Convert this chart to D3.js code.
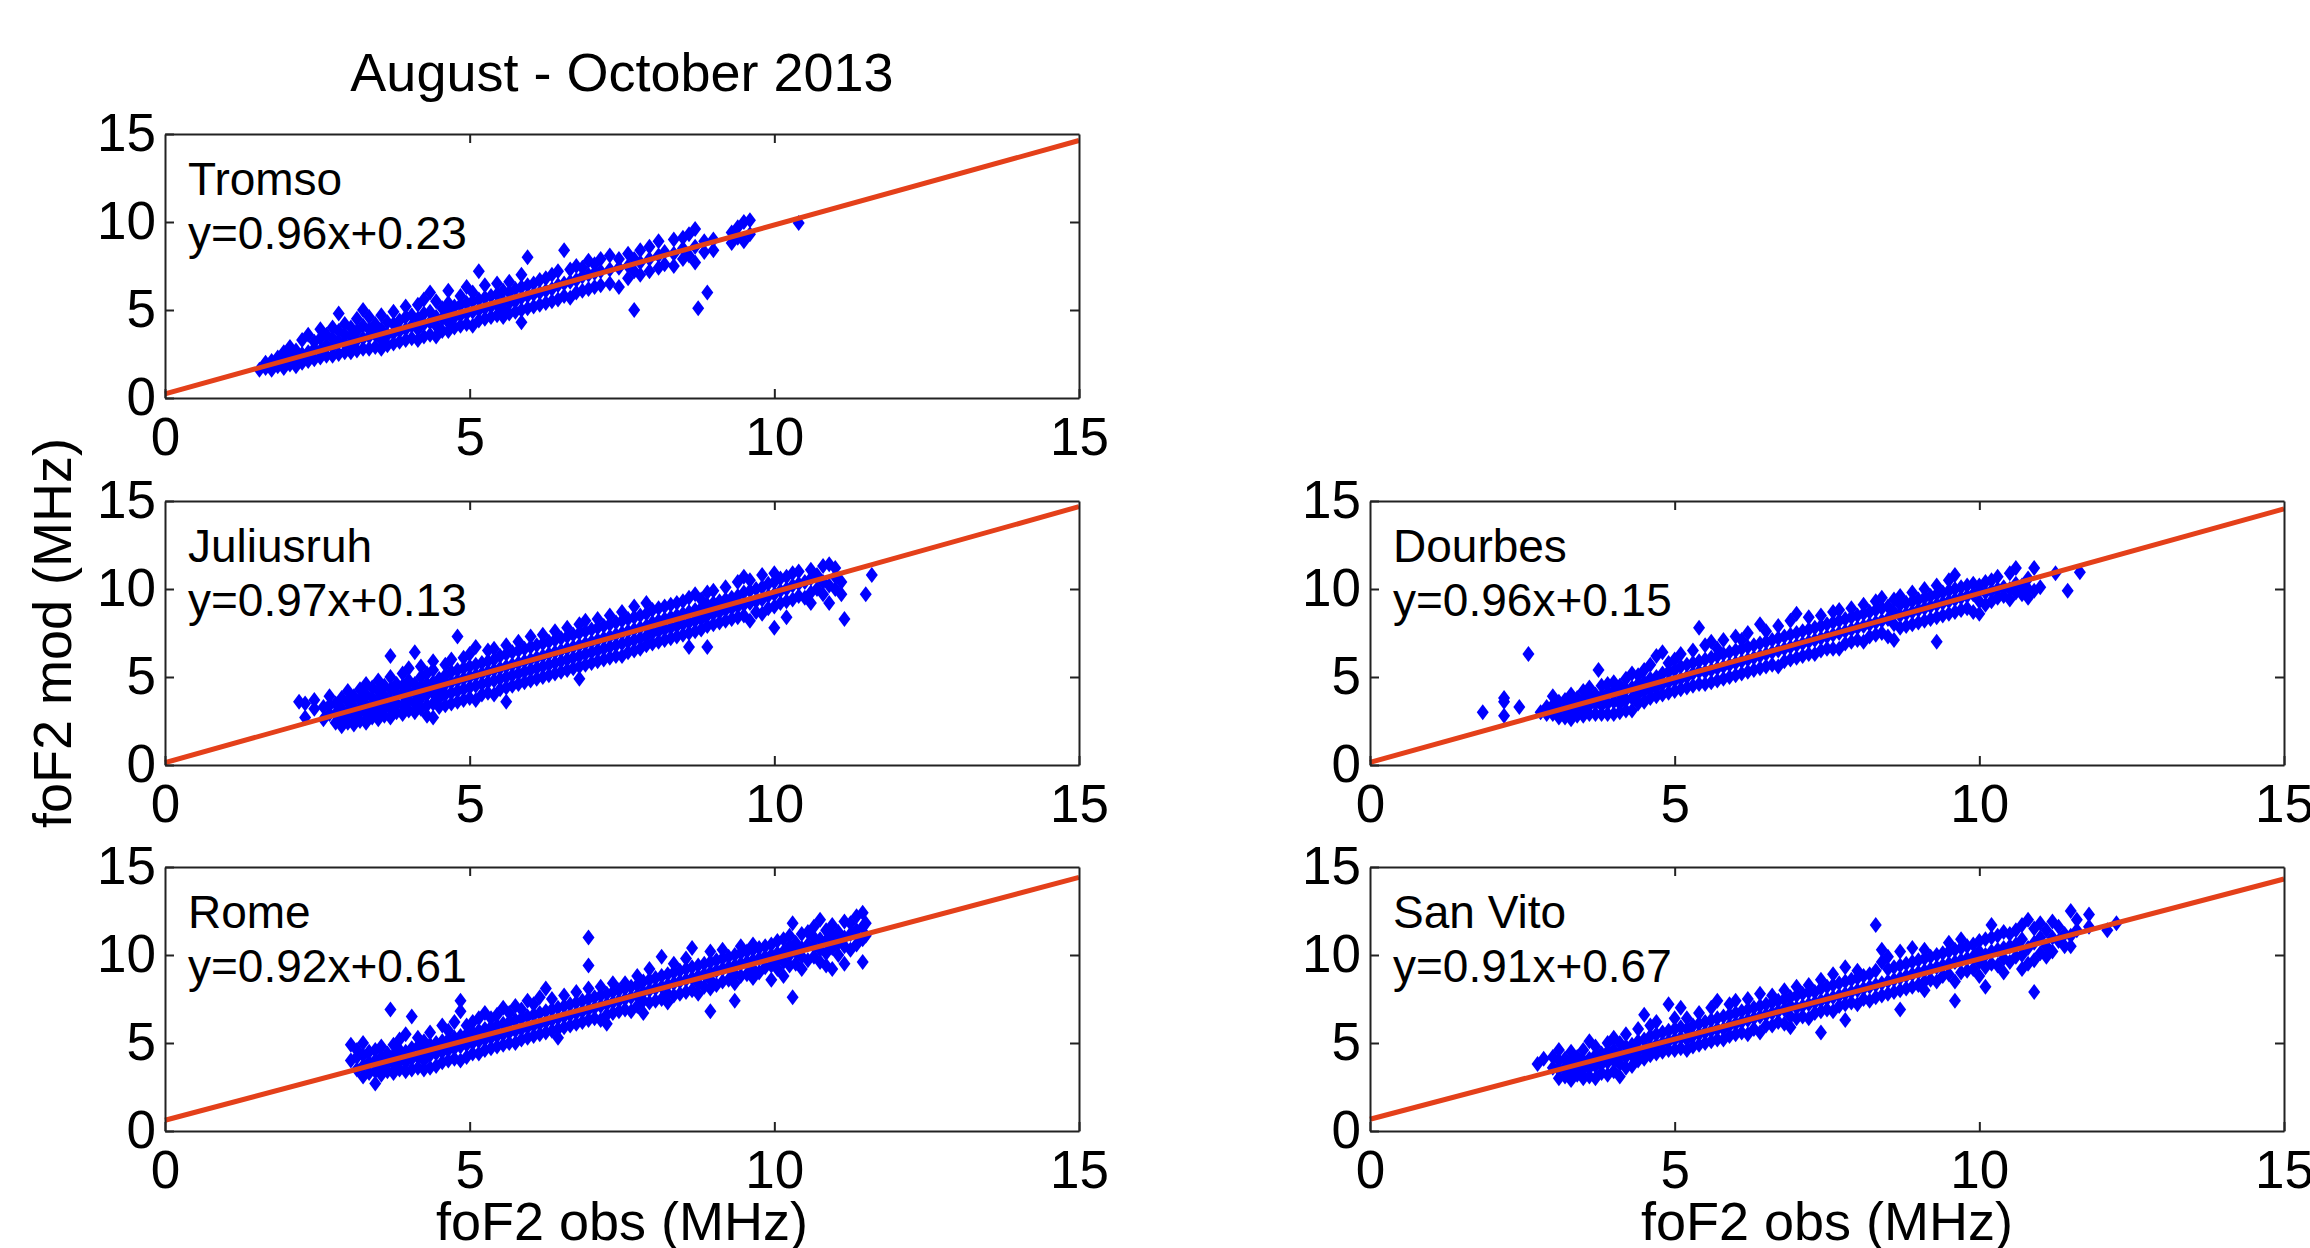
<!DOCTYPE html>
<html>
<head>
    <meta charset="utf-8">
    <title>foF2 observed vs modelled, August - October 2013</title>
    <script src="https://cdn.jsdelivr.net/npm/d3@7/dist/d3.min.js"></script>
    <style>
        body { margin: 0; background: #fff; }
    </style>
</head>
<body>
<div id="container"></div>

<script type="text/javascript">
    // stations and their regression fits (foF2 mod = slope * foF2 obs + intercept)
    const stations = ["Tromso", "Juliusruh", "Dourbes", "Rome", "San Vito"];
    const slopes = [0.96, 0.97, 0.96, 0.92, 0.91];
    const intercepts = [0.23, 0.13, 0.15, 0.61, 0.67];
    const axisTicks = [0, 5, 10, 15];

    // scatter: [foF2 obs, [foF2 mod values at that obs]]
    const tromso = [
        [1.55,[1.6]],[1.65,[1.7,2.0]],[1.75,[1.6,2.1]],[1.85,[1.8,2.3]],[1.95,[1.7,2.1,2.6]],
        [2.05,[1.9,2.4,2.9]],[2.15,[1.8,2.2,2.7]],[2.25,[2.0,2.5,3.3]],[2.35,[2.1,2.6,3.6]],[2.45,[2.2,2.8,3.2]],
        [2.55,[2.3,2.7,3.4,3.9]],[2.65,[2.4,3.0,3.6]],[2.75,[2.4,2.9,3.4,4.0]],[2.85,[2.5,3.2,3.8,4.8]],[2.95,[2.6,3.1,3.6,4.2]],
        [3.05,[2.6,3.0,3.5,4.0]],[3.15,[2.7,3.3,3.8,4.5]],[3.25,[2.8,3.4,4.1,5.0]],[3.35,[2.8,3.5,3.9,4.6]],[3.45,[2.9,3.6,4.2]],
        [3.55,[2.8,3.3,3.9,4.7]],[3.65,[3.0,3.6,4.3]],[3.75,[3.1,3.7,4.2,4.9]],[3.85,[3.2,3.8,4.4]],[3.95,[3.3,3.9,4.6,5.2]],
        [4.05,[3.4,4.1,4.7]],[4.15,[3.3,3.9,4.5,5.3]],[4.25,[3.5,4.2,4.8,5.6]],[4.35,[3.6,4.3,4.9,6.0]],[4.45,[3.5,4.1,4.6,5.5]],
        [4.55,[3.8,4.5,5.1]],[4.65,[3.8,4.3,4.9,5.4,6.1]],[4.75,[4.0,4.6,5.2]],[4.85,[4.1,4.7,5.3,5.8]],[4.95,[4.2,4.8,5.4,6.3]],
        [5.05,[4.1,4.9,5.5,6.0]],[5.15,[4.4,5.0,5.6,7.2]],[5.25,[4.5,5.1,5.7,6.4]],[5.35,[4.6,5.2,5.8]],[5.45,[4.7,5.3,5.9,6.5]],
        [5.55,[4.6,5.0,5.5,6.1]],[5.65,[4.8,5.4,6.0,6.6]],[5.75,[4.9,5.5,6.2]],[5.85,[4.3,5.0,5.7,6.3,7.0]],[5.95,[5.1,5.8,6.4,8.0]],
        [6.05,[5.2,5.9,6.5]],[6.15,[5.3,6.0,6.7]],[6.25,[5.4,6.1,6.8]],[6.35,[5.5,6.2,7.0]],[6.45,[5.6,6.4,7.2]],
        [6.55,[5.8,6.5,8.4]],[6.65,[5.7,6.6,7.3]],[6.75,[6.0,6.7,7.5]],[6.85,[6.1,6.9,7.4]],[6.95,[6.2,7.0,7.8]],
        [7.05,[6.3,7.1,7.6]],[7.15,[6.4,7.2,7.9]],[7.3,[6.5,7.3,8.1]],[7.45,[6.3,7.4,7.9]],[7.6,[6.8,7.5,8.2]],
        [7.7,[5.0,7.2,7.9]],[7.8,[7.0,7.7,8.4]],[7.95,[7.2,7.9,8.6]],[8.1,[7.4,8.1,8.9]],[8.2,[7.6,8.3]],
        [8.35,[7.5,8.2,9.0]],[8.5,[7.9,8.5,9.1]],[8.6,[8.1,9.3]],[8.7,[7.7,8.6,9.6]],[8.75,[5.1]],
        [8.85,[8.3,8.9]],[8.9,[6.0]],[9.0,[8.4,9.0]],[9.3,[8.8,9.4]],[9.4,[9.1,9.7]],
        [9.5,[8.9,10.0]],[9.6,[9.3,10.1]],[10.4,[9.95]]
    ];

    const juliusruh = [
        [2.2,[3.6]],[2.3,[2.7,3.5]],[2.45,[3.2,3.7]],[2.6,[2.6,3.3]],[2.7,[2.9,3.4,3.9]],
        [2.8,[2.4,2.9,3.5]],[2.9,[2.2,2.7,3.2,3.8]],[3.0,[2.4,3.0,3.6,4.2]],[3.1,[2.3,2.8,3.3,3.9]],[3.2,[2.5,3.1,3.7,4.3]],
        [3.3,[2.4,2.9,3.4,4.0,4.6]],[3.4,[2.7,3.2,3.8,4.4]],[3.5,[2.6,3.0,3.6,4.2,4.8]],[3.6,[2.8,3.3,3.9,4.5]],[3.7,[2.7,3.2,3.7,4.3,5.0,6.2]],
        [3.8,[3.0,3.5,4.1,4.6]],[3.9,[2.9,3.4,4.0,4.5,5.2]],[4.0,[3.1,3.7,4.2,4.8,5.5]],[4.1,[3.0,3.5,4.1,4.6,6.4]],[4.2,[3.2,3.8,4.4,5.0,5.6]],
        [4.3,[2.8,3.4,4.0,4.6,5.2]],[4.4,[2.7,3.5,4.1,4.7,5.4,5.9]],[4.5,[3.3,3.8,4.3,4.9]],[4.6,[3.4,4.0,4.6,5.1,5.7]],[4.7,[3.5,4.1,4.7,5.3,6.0]],
        [4.8,[3.6,4.2,4.8,5.4,7.3]],[4.9,[3.7,4.3,4.9,5.5,6.1]],[5.0,[3.8,4.4,5.0,5.6,6.3]],[5.1,[3.7,4.5,5.1,5.7,6.7]],[5.2,[4.0,4.6,5.2,5.8]],
        [5.3,[4.1,4.7,5.3,5.9,6.5]],[5.4,[4.0,4.8,5.4,6.0,6.6]],[5.5,[4.3,4.9,5.5,6.2]],[5.6,[3.6,4.4,5.0,5.6,6.3,6.8]],[5.7,[4.5,5.1,5.7,6.4]],
        [5.8,[4.6,5.2,5.8,6.5,7.0]],[5.9,[4.7,5.3,5.9,6.6]],[6.0,[4.8,5.4,6.0,6.7,7.3]],[6.1,[4.9,5.5,6.1,6.8]],[6.2,[5.0,5.6,6.2,6.9,7.4]],
        [6.3,[5.1,5.7,6.3,7.0]],[6.4,[5.2,5.8,6.4,7.1,7.6]],[6.5,[5.3,5.9,6.5,7.2]],[6.6,[5.4,6.0,6.6,7.3,7.8]],[6.7,[5.5,6.1,6.7,7.4]],
        [6.8,[4.9,5.6,6.2,6.8,7.5,8.0]],[6.9,[5.7,6.3,6.9,7.6,8.2]],[7.0,[5.8,6.4,7.0,7.7]],[7.1,[5.9,6.5,7.1,7.8,8.3]],[7.2,[6.0,6.6,7.2,7.9]],
        [7.3,[6.1,6.7,7.3,8.0,8.5]],[7.4,[6.2,6.8,7.4,8.1]],[7.5,[6.2,6.9,7.5,8.2,8.7]],[7.6,[6.4,7.0,7.6,8.3]],[7.7,[6.5,7.1,7.7,8.4,9.0]],
        [7.8,[6.6,7.2,7.8,8.5]],[7.9,[6.8,7.3,7.9,8.6,9.2]],[8.0,[6.9,7.5,8.1,8.8]],[8.1,[7.0,7.6,8.2,8.9]],[8.2,[7.1,7.7,8.3,9.0]],
        [8.3,[7.2,7.8,8.4,9.1]],[8.4,[7.3,7.9,8.5,9.2]],[8.5,[7.4,8.0,8.6,9.3]],[8.6,[6.7,7.5,8.1,8.7,9.5]],[8.7,[7.6,8.2,8.8,9.7]],
        [8.8,[7.7,8.3,8.9,9.4]],[8.9,[6.7,7.9,8.5,9.1,9.8]],[9.0,[8.0,8.6,9.2,9.9]],[9.1,[8.1,8.7,9.3]],[9.2,[8.2,8.8,9.4,10.1]],
        [9.3,[8.3,8.9,9.5]],[9.4,[8.4,9.0,9.6,10.4]],[9.5,[8.5,9.1,9.8,10.7]],[9.6,[8.2,9.2,9.9,10.5]],[9.7,[8.7,9.3,10.0]],
        [9.8,[8.6,9.4,10.1,10.8]],[9.9,[8.9,9.6,10.3]],[10.0,[7.8,9.0,9.7,10.4,10.9]],[10.1,[9.2,9.9,10.6]],[10.2,[8.4,9.3,10.0,10.7]],
        [10.3,[9.4,10.2,10.9]],[10.4,[9.6,10.3,11.0]],[10.5,[9.5,10.4]],[10.6,[9.2,9.8,10.6,11.1]],[10.7,[10.0,10.8]],
        [10.8,[9.7,10.4,11.3]],[10.9,[9.2,10.2,11.4]],[11.0,[10.0,10.7,11.2]],[11.1,[9.7,10.4]],[11.15,[8.3]],
        [11.5,[9.7]],[11.6,[10.8]]
    ];

    const dourbes = [
        [1.85,[3.0]],[2.2,[2.8,3.6,3.8]],[2.45,[3.3]],[2.6,[6.3]],[2.8,[3.0]],
        [2.9,[2.9,3.3]],[3.0,[2.9,3.4,3.9]],[3.1,[2.7,3.1,3.6]],[3.2,[2.7,3.2,3.7]],[3.3,[2.6,3.0,3.5,4.0]],
        [3.4,[2.8,3.3,3.8]],[3.5,[2.8,3.2,3.7,4.2]],[3.6,[2.9,3.4,3.9,4.4]],[3.7,[2.9,3.5,4.0]],[3.75,[5.4]],
        [3.8,[2.9,3.4,3.9,4.5]],[3.9,[2.9,3.5,4.1,4.6]],[4.0,[2.9,3.6,4.2,4.7]],[4.1,[3.0,3.5,4.0,4.5]],[4.2,[3.1,3.7,4.3,4.9]],
        [4.3,[3.1,3.8,4.4,5.2]],[4.4,[3.5,4.0,4.6,5.1]],[4.5,[3.6,4.2,4.7,5.4]],[4.6,[3.8,4.3,4.9,5.7]],[4.7,[3.9,4.4,5.0,6.2]],
        [4.8,[4.0,4.6,5.2,6.4]],[4.9,[4.1,4.7,5.3,5.8]],[5.0,[4.2,4.8,5.4,6.0]],[5.1,[4.3,4.9,5.6,6.3]],[5.2,[4.4,5.0,5.7]],
        [5.3,[4.5,5.2,5.8,6.5]],[5.4,[4.6,5.3,5.9,7.8]],[5.5,[4.6,5.3,6.0,6.8]],[5.6,[4.7,5.4,6.1,7.0]],[5.7,[4.8,5.5,6.2,6.6]],
        [5.8,[4.9,5.6,6.3,7.1]],[5.9,[5.0,5.7,6.4]],[6.0,[5.1,5.8,6.5,7.3]],[6.1,[5.2,5.9,6.6,7.1]],[6.2,[5.3,6.0,6.7,7.5]],
        [6.3,[5.4,6.1,6.8]],[6.4,[5.5,6.2,6.9,8.0]],[6.5,[5.6,6.3,7.0,7.6]],[6.6,[5.7,6.4,7.1]],[6.7,[5.6,6.5,7.2,7.9]],
        [6.8,[5.9,6.6,7.3]],[6.9,[6.0,6.7,7.4,8.2]],[7.0,[6.1,6.8,7.5,8.6]],[7.1,[6.2,6.9,7.6]],[7.2,[6.3,7.0,7.7,8.4]],
        [7.3,[6.3,7.1,7.8]],[7.4,[6.5,7.2,7.9,8.5]],[7.5,[6.6,7.3,8.0]],[7.6,[6.6,7.4,8.1,8.7]],[7.7,[6.6,7.5,8.2,8.8]],
        [7.8,[6.9,7.6,8.3]],[7.9,[7.0,7.7,8.4,8.9]],[8.0,[7.1,7.8,8.5]],[8.1,[7.0,7.9,8.6,9.1]],[8.2,[7.3,8.0,8.7]],
        [8.3,[7.4,8.1,8.8,9.3]],[8.4,[7.5,8.2,8.9,9.5]],[8.5,[7.3,8.3,9.0]],[8.6,[7.1,8.0,8.7,9.4]],[8.7,[7.8,8.5,9.1,9.6]],
        [8.8,[7.9,8.6,9.2]],[8.9,[8.0,8.7,9.3,9.8]],[9.0,[8.1,8.8,9.4]],[9.1,[8.2,8.9,9.5,10.0]],[9.2,[8.3,9.0,9.6]],
        [9.3,[7.0,8.4,9.1,9.7,10.2]],[9.4,[8.5,9.2,9.8]],[9.5,[8.6,9.3,9.9,10.5]],[9.6,[8.7,9.4,10.0,10.8]],[9.7,[8.8,9.5,10.1]],
        [9.8,[8.9,9.6,10.2]],[9.9,[8.7,9.7,10.3]],[10.0,[8.6,9.3,9.9,10.2]],[10.1,[9.1,9.8,10.4]],[10.2,[9.3,9.9,10.5]],
        [10.3,[9.5,10.0,10.7]],[10.4,[9.6,10.1]],[10.5,[9.4,10.0,10.9]],[10.6,[9.8,10.3,11.2]],[10.7,[9.7,10.2]],
        [10.8,[9.5,10.0,10.6]],[10.9,[9.9,11.2]],[11.0,[10.1]],[11.25,[10.9]],[11.45,[9.9]],
        [11.65,[10.95]]
    ];

    const rome = [
        [3.05,[4.0,4.9]],[3.15,[3.5,4.2,4.6]],[3.25,[3.1,3.7,4.3,5.0]],[3.35,[3.3,3.9,4.5]],[3.45,[2.7,3.4,4.0,4.6]],
        [3.55,[3.2,3.6,4.2,4.8]],[3.65,[3.4,3.9,4.4]],[3.7,[6.9]],[3.75,[3.3,3.8,4.3,4.9]],[3.85,[3.5,4.0,4.6,5.2]],
        [3.95,[3.4,3.9,4.5,5.5]],[4.05,[3.5,4.1,4.7,6.5]],[4.15,[3.6,4.2,4.8,5.3]],[4.25,[3.5,4.0,4.6,5.1]],[4.35,[3.6,4.3,4.9,5.6]],
        [4.45,[3.7,4.4,5.0]],[4.55,[3.9,4.5,5.1,6.0]],[4.65,[4.0,4.6,5.2,5.7]],[4.75,[4.1,4.7,5.3,6.2]],[4.85,[4.0,4.8,5.4,6.8,7.4]],
        [4.95,[4.2,4.9,5.5,6.0]],[5.05,[4.4,5.0,5.6,6.2]],[5.15,[4.4,5.1,5.7,6.4]],[5.25,[4.6,5.2,5.8,6.7]],[5.35,[4.7,5.3,5.9,6.4]],
        [5.45,[4.8,5.4,6.0,6.6]],[5.55,[4.9,5.5,6.1,7.0]],[5.65,[5.0,5.6,6.2,6.7]],[5.75,[5.0,5.7,6.3,7.1]],[5.85,[5.2,5.8,6.4,6.9]],
        [5.95,[5.3,5.9,6.5,7.4]],[6.05,[5.4,6.0,6.6,7.2]],[6.15,[5.5,6.1,6.7,7.6]],[6.25,[5.6,6.2,6.8,8.1]],[6.35,[5.7,6.3,6.9,7.5]],
        [6.45,[5.3,5.8,6.4,7.0]],[6.55,[5.9,6.5,7.1,7.7]],[6.65,[6.0,6.6,7.2]],[6.75,[6.1,6.7,7.3,7.9]],[6.85,[6.2,6.8,7.4]],
        [6.95,[6.3,6.9,7.5,8.1,9.4,11.0]],[7.05,[6.4,7.0,7.6]],[7.15,[6.3,7.1,7.7,8.2]],[7.25,[6.1,6.6,7.2,7.8]],[7.35,[6.7,7.3,7.9,8.4]],
        [7.45,[6.8,7.4,8.0]],[7.55,[6.9,7.5,8.1,8.4]],[7.65,[6.8,7.6,8.2]],[7.75,[7.1,7.7,8.3,8.8]],[7.85,[6.7,7.4,7.9,8.5]],
        [7.95,[7.3,8.0,8.6,9.2]],[8.05,[7.4,8.1,8.7]],[8.15,[7.5,8.2,8.8,9.9]],[8.25,[7.3,7.8,8.3,8.9]],[8.35,[7.7,8.4,9.0,9.5]],
        [8.45,[7.8,8.5,9.1]],[8.55,[7.9,8.6,9.2,9.8]],[8.65,[8.0,8.7,9.3,10.4]],[8.75,[7.8,8.4,8.8,9.4]],[8.85,[8.2,8.9,9.5]],
        [8.95,[6.8,8.1,8.6,9.0,9.6,10.2]],[9.05,[8.3,9.1,9.7]],[9.15,[8.5,9.2,9.8,10.3]],[9.25,[8.6,9.3,9.9]],[9.35,[7.4,8.4,8.9,9.4,10.0]],
        [9.45,[8.8,9.5,10.1,10.5]],[9.55,[8.9,9.6,10.2]],[9.65,[8.7,9.2,9.7,10.3,10.6]],[9.75,[9.0,9.8,10.4]],[9.85,[9.3,9.9,10.5]],
        [9.95,[8.6,9.4,10.0,10.6]],[10.05,[9.2,9.7,10.1,10.8]],[10.15,[8.8,9.6,10.2,10.9]],[10.25,[9.4,10.0,10.5,11.1]],[10.3,[7.6,11.8]],
        [10.35,[9.5,10.2,10.7]],[10.45,[9.2,9.9,10.4,11.2]],[10.55,[9.7,10.6,11.3]],[10.65,[9.9,10.5,11.0,11.6]],[10.75,[9.6,10.3,10.9,12.0]],
        [10.85,[9.4,10.1,10.8,11.4]],[10.95,[9.2,10.4,11.1,11.7]],[11.05,[10.0,10.7,11.3]],[11.15,[9.5,10.5,11.0,11.9]],[11.25,[10.3,11.2,11.8]],
        [11.35,[10.6,11.4,12.2]],[11.45,[9.6,10.9,11.6,12.4]],[11.5,[11.1,11.8]]
    ];

    const sanVito = [
        [2.75,[3.8]],[2.85,[4.1]],[3.0,[3.6,4.2]],[3.1,[3.0,3.5,4.0,4.6]],[3.2,[3.1,3.6,4.1]],
        [3.3,[2.9,3.4,3.9,4.5]],[3.4,[3.2,3.7,4.2]],[3.5,[3.0,3.5,4.0,4.6]],[3.6,[3.1,3.6,4.1,5.1]],[3.7,[3.0,3.7,4.3,4.8]],
        [3.8,[3.3,3.8,4.4]],[3.9,[3.2,3.9,4.5,5.0]],[4.0,[3.4,4.0,4.6,5.3]],[4.1,[3.1,3.8,4.4,5.0]],[4.2,[3.6,4.2,4.8,5.5]],
        [4.3,[3.7,4.3,4.9]],[4.4,[4.0,4.5,5.1,5.8]],[4.5,[4.1,4.6,5.2,6.6]],[4.6,[4.3,4.8,5.4,6.0]],[4.7,[4.4,4.9,5.5,6.2]],
        [4.8,[4.5,5.0,5.6]],[4.9,[4.6,5.1,5.7,7.2]],[5.0,[4.6,5.2,5.8,6.4]],[5.1,[4.7,5.3,5.9,7.0]],[5.2,[4.6,5.2,5.8,6.4]],
        [5.3,[4.8,5.4,6.0]],[5.4,[4.9,5.5,6.1,6.7]],[5.5,[5.0,5.6,6.2]],[5.6,[5.1,5.7,6.3,7.0]],[5.7,[5.2,5.8,6.4,7.4]],
        [5.8,[5.2,5.8,6.5]],[5.9,[5.4,6.0,6.6,7.2]],[6.0,[5.5,6.1,6.7,7.4]],[6.1,[5.6,6.2,6.8]],[6.2,[5.5,6.3,6.9,7.5]],
        [6.3,[5.8,6.4,7.0]],[6.4,[5.6,6.5,7.1,7.8]],[6.5,[6.0,6.6,7.2]],[6.6,[6.0,6.7,7.3,7.7]],[6.7,[6.2,6.8,7.4]],
        [6.8,[6.1,6.9,7.5,8.0]],[6.9,[5.9,6.5,7.1,7.6]],[7.0,[6.4,7.0,7.7,8.2]],[7.1,[6.5,7.1,7.8]],[7.2,[6.4,7.2,7.9,8.3]],
        [7.3,[6.7,7.3,7.9]],[7.4,[5.6,6.8,7.4,8.1,8.6]],[7.5,[6.9,7.5,8.2]],[7.6,[6.8,7.6,8.3,8.9]],[7.7,[7.1,7.7,8.4]],
        [7.8,[6.3,7.2,7.8,8.5,9.3]],[7.9,[7.3,7.9,8.6]],[8.0,[7.2,8.0,8.7,9.1]],[8.1,[7.5,8.1,8.8]],[8.2,[7.4,8.2,8.9]],
        [8.3,[7.6,8.3,9.1,11.7]],[8.4,[7.7,8.4,9.6,10.3]],[8.5,[7.8,8.5,9.2,9.9]],[8.6,[7.9,8.6,9.3]],[8.7,[6.9,8.0,8.7,9.4,10.2]],
        [8.8,[8.1,8.8,9.5]],[8.9,[8.2,8.9,9.6,10.4]],[9.0,[8.3,9.0,9.7]],[9.1,[8.0,8.5,9.1,9.8,10.3]],[9.2,[8.6,9.2,9.9]],
        [9.3,[8.5,9.3,10.0]],[9.4,[8.8,9.4,10.1]],[9.5,[8.9,9.5,10.2,10.7]],[9.6,[7.4,8.5,9.6,10.3]],[9.7,[9.0,9.7,10.4,10.9]],
        [9.8,[9.1,9.8,10.5]],[9.9,[9.2,9.9,10.6]],[10.0,[8.8,9.6,10.2,10.8]],[10.1,[8.2,9.3,10.0,10.9]],[10.2,[9.5,10.2,11.0,11.7]],
        [10.3,[9.4,10.3,11.1]],[10.4,[9.0,9.8,10.4,11.3]],[10.5,[9.6,10.5,11.2]],[10.6,[9.9,10.6,11.4]],[10.7,[9.2,10.0,10.9,11.7]],
        [10.8,[9.5,10.4,12.0]],[10.9,[7.9,9.7,10.7,11.5]],[11.0,[10.1,11.0,11.8]],[11.1,[9.9,10.5,11.4]],[11.2,[10.2,11.0,11.9]],
        [11.3,[10.8,11.6]],[11.4,[10.5,11.2]],[11.5,[10.5,11.1,12.5]],[11.6,[11.4,12.0]],[11.8,[11.6,12.3]],
        [12.1,[11.4]],[12.25,[11.8]]
    ];

    const stationData = [tromso, juliusruh, dourbes, rome, sanVito];

    // figure layout
    const fontFamily = "'Liberation Sans', Arial, Helvetica, sans-serif";
    const plotW = 914, plotH = 264, tickLen = 9;
    const panelPos = [
        {left: 165, top: 134},
        {left: 165, top: 501},
        {left: 1370, top: 501},
        {left: 165, top: 867},
        {left: 1370, top: 867}
    ];

    const svg = d3.select("#container")
        .append("svg")
        .attr("width", 2310)
        .attr("height", 1248);

    svg.append("rect")
        .attr("width", 2310)
        .attr("height", 1248)
        .attr("fill", "#fff");

    // diamond marker, a bit taller than wide
    const diamond = "M0,-8L6,0L0,8L-6,0Z";

    function styleAxis(g) {
        g.select(".domain").attr("stroke", "#222").attr("stroke-width", 2);
        g.selectAll(".tick line").attr("stroke", "#222").attr("stroke-width", 2);
        g.selectAll(".tick text")
            .attr("fill", "#000")
            .attr("font-size", 53)
            .attr("font-family", fontFamily);
    }

    stations.forEach((name, i) => {
        const pos = panelPos[i];
        const g = svg.append("g")
            .attr("transform", `translate(${pos.left},${pos.top})`);

        const x = d3.scaleLinear().domain([0, 15]).range([0, plotW]);
        const y = d3.scaleLinear().domain([0, 15]).range([plotH, 0]);

        // flatten the columns into points
        const pts = stationData[i].flatMap(([obs, mods]) => mods.map(m => [obs, m]));

        g.selectAll("path.pt")
            .data(pts)
            .join("path")
            .attr("class", "pt")
            .attr("d", diamond)
            .attr("transform", d => `translate(${x(d[0])},${y(d[1])})`)
            .attr("fill", "#0000ff");

        // regression line
        const fit = v => slopes[i] * v + intercepts[i];
        g.append("line")
            .attr("x1", x(0)).attr("y1", y(fit(0)))
            .attr("x2", x(15)).attr("y2", y(fit(15)))
            .attr("stroke", "#e4401a")
            .attr("stroke-width", 5);

        // axes, ticks pointing inwards
        g.append("g")
            .attr("transform", `translate(0,${plotH})`)
            .call(d3.axisBottom(x).tickValues(axisTicks).tickSize(-tickLen).tickSizeOuter(0).tickPadding(19))
            .call(styleAxis);
        g.append("g")
            .call(d3.axisLeft(y).tickValues(axisTicks).tickSize(-tickLen).tickSizeOuter(0).tickPadding(9))
            .call(styleAxis);
        g.append("g")
            .call(d3.axisTop(x).tickValues([5, 10]).tickSize(-tickLen).tickSizeOuter(0).tickFormat(""))
            .call(styleAxis);
        g.append("g")
            .attr("transform", `translate(${plotW},0)`)
            .call(d3.axisRight(y).tickValues([5, 10]).tickSize(-tickLen).tickSizeOuter(0).tickFormat(""))
            .call(styleAxis);

        // station name and fit equation
        g.append("text")
            .attr("x", 23).attr("y", 61)
            .attr("font-family", fontFamily)
            .attr("font-size", 46)
            .text(name);
        g.append("text")
            .attr("x", 23).attr("y", 115)
            .attr("font-family", fontFamily)
            .attr("font-size", 46)
            .text(`y=${slopes[i].toFixed(2)}x+${intercepts[i].toFixed(2)}`);
    });

    // title and axis titles
    svg.append("text")
        .attr("x", 165 + plotW / 2).attr("y", 91)
        .attr("text-anchor", "middle")
        .attr("font-family", fontFamily)
        .attr("font-size", 54)
        .text("August - October 2013");

    svg.append("text")
        .attr("transform", "translate(71,633) rotate(-90)")
        .attr("text-anchor", "middle")
        .attr("font-family", fontFamily)
        .attr("font-size", 54)
        .text("foF2 mod (MHz)");

    [165, 1370].forEach(left => {
        svg.append("text")
            .attr("x", left + plotW / 2).attr("y", 1240)
            .attr("text-anchor", "middle")
            .attr("font-family", fontFamily)
            .attr("font-size", 54)
            .text("foF2 obs (MHz)");
    });
</script>
</body>
</html>
